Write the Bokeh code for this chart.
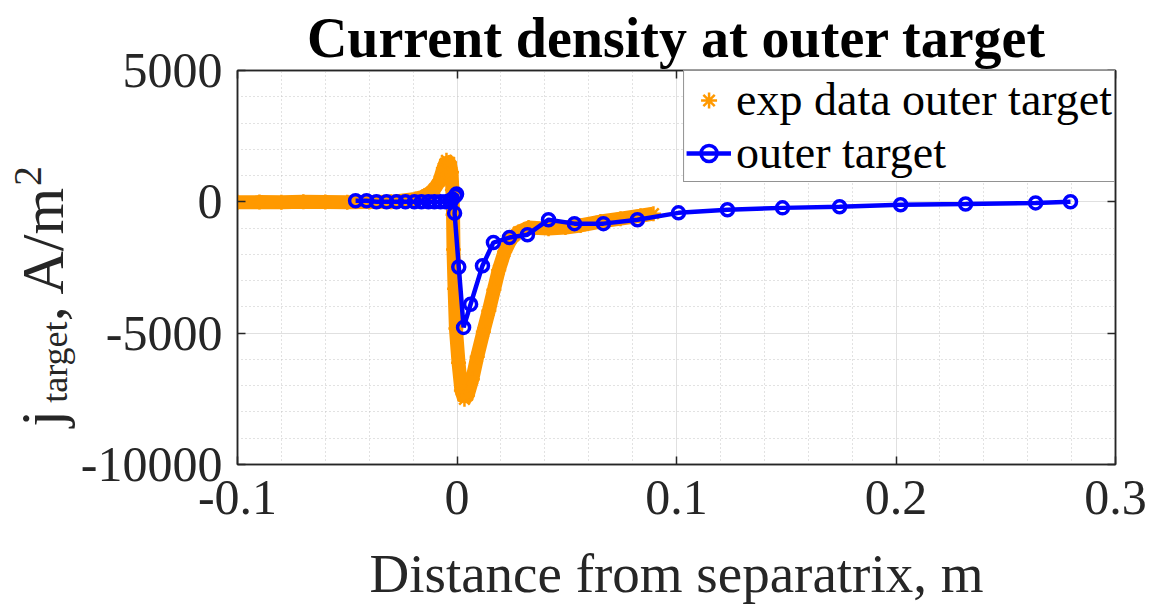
import numpy as np
from math import pi
from bokeh.plotting import figure
from bokeh.layouts import row
from bokeh.core.properties import value
from bokeh.models import (Range1d, LinearAxis, FixedTicker, CustomJSTickFormatter,
                          Legend, LegendItem)
from bokeh.embed import file_html
from bokeh.resources import INLINE

# ---------------- data ----------------
# experimental data, outer target (centre of the orange band)
exp_x = [-0.100, -0.090, -0.080, -0.070, -0.060, -0.050, -0.040, -0.030,
         -0.0189, -0.0157, -0.0130, -0.0103, -0.0080, -0.0062, -0.0048,
         -0.0034, -0.0025, -0.0021, -0.0018, -0.0016, -0.0011, -0.0005,
         0.0007, 0.0020, 0.0034, 0.0048, 0.0070, 0.0092, 0.0120, 0.0145,
         0.0168, 0.0190, 0.0217, 0.0245, 0.0280, 0.0326, 0.0417, 0.0494,
         0.0563, 0.0654, 0.0745, 0.0836, 0.0895]
exp_y = [-20, -10, -20, 0, -10, -20, -10, 0,
         110, 190, 300, 490, 790, 1280, 1580,
         1500, 1130, 450, -490, -1810, -3310, -4820,
         -6130, -7180, -7520, -7370, -6750, -5900, -4950, -4150,
         -3350, -2600, -1900, -1420, -1150, -980, -1020, -980,
         -900, -750, -640, -530, -450]

# simulation, outer target
sim_x = [-0.0462, -0.0412, -0.0367, -0.0321, -0.0276, -0.0235, -0.0194,
         -0.0162, -0.0130, -0.0103, -0.0075, -0.0052, -0.0034, -0.0021,
         -0.0007, -0.0002, -0.0011, 0.0008, 0.0030, 0.0062, 0.0116, 0.0166,
         0.0239, 0.0321, 0.0417, 0.0535, 0.0667, 0.0822, 0.1009, 0.1232,
         0.1483, 0.1743, 0.2021, 0.2317, 0.2636, 0.2795]
sim_y = [40, 40, 0, 0, 0, 0, 0,
         0, 0, 0, 0, 0, 30, 110,
         230, 300, -430, -2480, -4780, -3900, -2430, -1550,
         -1360, -1250, -680, -830, -830, -680, -420, -300,
         -230, -190, -110, -80, -40, 0]

x_ticks = [-0.1, 0, 0.1, 0.2, 0.3]
y_ticks = [-10000, -5000, 0, 5000]

title_text = "Current density at outer target"
x_label = "Distance from separatrix, m"
legend_exp = "exp data outer target"
legend_sim = "outer target"
# y label pieces: j_{target}, A/m^2
ylab_main = ["j", ", A/m"]
ylab_sub = ["target"]
ylab_sup = ["2"]

# ---------------- styling / layout ----------------
W, H = 1153, 606
LW = 76                      # width of the strip that holds the y label
FL, FR, FT, FB = 237, 1115, 70, 466
X0, X1 = -0.1, 0.3
Y0, Y1 = -10000, 5000
ORANGE = "#FF9900"
BLUE = "#0000FF"
AX = "#262626"
FONT = "Liberation Serif"

# --- y-label strip: frame rows FT..FB, coordinates are page pixels ---
lf = figure(width=LW, height=H, x_range=Range1d(0, LW), y_range=Range1d(FB, FT),
            output_backend="svg", toolbar_location=None,
            x_axis_location=None, y_axis_location=None,
            min_border=0, min_border_left=0, min_border_right=0,
            min_border_top=FT, min_border_bottom=H - FB)
lf.grid.visible = False
lf.outline_line_color = None
lf.text(x=[41, 42], y=[428, 322], text=ylab_main, angle=pi / 2,
        text_font=value(FONT), text_font_size="60px", text_color=AX,
        text_align="left", text_baseline="alphabetic")
lf.text(x=[54], y=[404], text=ylab_sub, angle=pi / 2,
        text_font=value(FONT), text_font_size="36px", text_color=AX,
        text_align="left", text_baseline="alphabetic")
lf.text(x=[27], y=[186], text=ylab_sup, angle=pi / 2,
        text_font=value(FONT), text_font_size="40px", text_color=AX,
        text_align="left", text_baseline="alphabetic")

# --- main plot ---
p = figure(width=W - LW, height=H, x_range=Range1d(X0, X1), y_range=Range1d(Y0, Y1),
           output_backend="svg", toolbar_location=None,
           min_border_left=FL - LW, min_border_right=W - FR,
           min_border_top=FT, min_border_bottom=H - FB)

p.title.text = title_text
p.title.text_font = FONT
p.title.text_font_size = "56px"
p.title.text_font_style = "bold"
p.title.text_color = "black"
p.title.align = "center"
p.title.vertical_align = "top"
p.title.standoff = 0
p.title.offset = 0
p.title.text_line_height = 0.75

xt = FixedTicker(ticks=x_ticks, minor_ticks=list(np.round(np.arange(-0.1, 0.3001, 0.02), 4)))
yt = FixedTicker(ticks=y_ticks, minor_ticks=list(range(-10000, 5001, 1000)))
fmt = CustomJSTickFormatter(code="return tick.toString();")
blank = CustomJSTickFormatter(code="return '';")

for ax, t in ((p.below[0], xt), (p.left[0], yt)):
    ax.ticker = t
    ax.formatter = fmt
    ax.major_tick_in = 8
    ax.major_tick_out = 0
    ax.minor_tick_in = 0
    ax.minor_tick_out = 0
    ax.axis_line_color = AX
    ax.axis_line_width = 1.5
    ax.major_tick_line_color = AX
    ax.major_tick_line_width = 1.5
    ax.major_label_text_font = FONT
    ax.major_label_text_font_size = "50px"
    ax.major_label_text_color = AX

p.below[0].major_label_standoff = 16
p.left[0].major_label_standoff = 15
p.below[0].axis_label = x_label
p.below[0].axis_label_text_font = FONT
p.below[0].axis_label_text_font_size = "55px"
p.below[0].axis_label_text_font_style = "normal"
p.below[0].axis_label_text_color = AX
p.below[0].axis_label_standoff = 26

for side, t in (("above", xt), ("right", yt)):
    ax = LinearAxis(ticker=t, formatter=blank, major_tick_in=8, major_tick_out=0,
                    minor_tick_in=0, minor_tick_out=0, axis_line_color=AX,
                    axis_line_width=1.5, major_tick_line_color=AX,
                    major_tick_line_width=1.5, major_label_standoff=0,
                    major_label_text_font_size="1px")
    p.add_layout(ax, side)

p.xgrid.ticker = xt
p.ygrid.ticker = yt
for g in (p.xgrid, p.ygrid):
    g.grid_line_color = "#e0e0e0"
    g.grid_line_width = 1
    g.minor_grid_line_color = "#c4c4c4"
    g.minor_grid_line_dash = "1 3"
    g.minor_grid_line_width = 1
p.outline_line_color = AX
p.outline_line_width = 1.5

# ---------------- data marks ----------------
p.line(exp_x, exp_y, line_color=ORANGE, line_width=14)
exp_sc = p.scatter(exp_x, exp_y, marker="asterisk", size=15, line_color=ORANGE, line_width=2.5)

sim_line = p.line(sim_x, sim_y, line_color=BLUE, line_width=4.5)
sim_sc = p.scatter(sim_x, sim_y, marker="circle", size=12, line_color=BLUE,
                   line_width=3.5, fill_color=None)

legend = Legend(items=[LegendItem(label=legend_exp, renderers=[exp_sc]),
                       LegendItem(label=legend_sim, renderers=[sim_line, sim_sc])],
                location="top_right", margin=0, padding=2, spacing=-8,
                glyph_width=45, glyph_height=40, label_height=40, label_standoff=5,
                label_text_font=FONT, label_text_font_size="46px",
                label_text_color="black", border_line_color=AX,
                border_line_width=1.5, background_fill_color="white",
                background_fill_alpha=1)
p.add_layout(legend)

layout = row(lf, p, spacing=0)
open("out.html", "w").write(file_html(layout, INLINE))
